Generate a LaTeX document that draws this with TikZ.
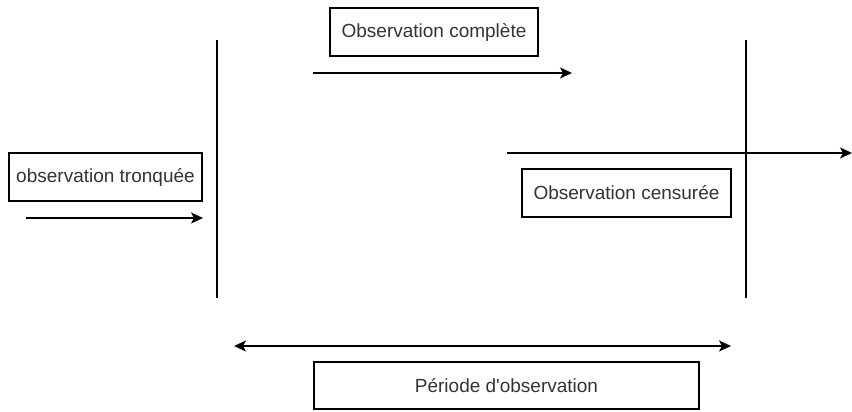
\documentclass[tikz,border=0pt]{standalone}
\usepackage{fontspec}
\setmainfont{Liberation Sans}[Ligatures=TeXOff]
\usetikzlibrary{arrows.meta}
\definecolor{textgrey}{HTML}{333333}
\tikzset{
  boite/.style={draw, line width=1.2pt, minimum height=48pt, inner sep=0pt,
    text=textgrey, font=\fontsize{19}{23}\selectfont},
  fleche/.style={line width=1.3pt, -{Stealth[length=12pt,width=11pt,inset=3pt]}},
  borne/.style={line width=1.3pt}
}
\begin{document}
\begin{tikzpicture}[x=1pt,y=-1pt]
    \useasboundingbox (0,0) rectangle (852,412);

    % Les bornes de la periode d'observation
    \coordinate (debutHaut) at (217,40);
    \coordinate (debutBas) at (217,298);
    \coordinate (finHaut) at (746,40);
    \coordinate (finBas) at (746,298);
    \draw[borne] (debutHaut) -- (debutBas);
    \draw[borne] (finHaut) -- (finBas);

    % Les boites
    \node[boite, minimum width=193pt] (tronquee) at (105.5,177) {observation tronquée};
    \node[boite, minimum width=208pt] (complete) at (434,32) {Observation complète};
    \node[boite, minimum width=209pt] (censuree) at (626.5,193) {Observation censurée};
    \node[boite, minimum width=385pt, minimum height=47pt] (periode) at (506.5,385.5) {Période d'observation};

    % Les fleches
    \coordinate (tronqueeA) at (26,218);
    \coordinate (tronqueeB) at (203,218);
    \draw[fleche] (tronqueeA) -- (tronqueeB);

    \coordinate (completeA) at (313,73);
    \coordinate (completeB) at (572,73);
    \draw[fleche] (completeA) -- (completeB);

    \coordinate (censureeA) at (507,153);
    \coordinate (censureeB) at (852,153);
    \draw[fleche] (censureeA) -- (censureeB);

    \coordinate (periodeA) at (234,346);
    \coordinate (periodeB) at (731,346);
    \draw[fleche, {Stealth[length=12pt,width=11pt,inset=3pt]}-{Stealth[length=12pt,width=11pt,inset=3pt]}] (periodeA) -- (periodeB);
\end{tikzpicture}
\end{document}
